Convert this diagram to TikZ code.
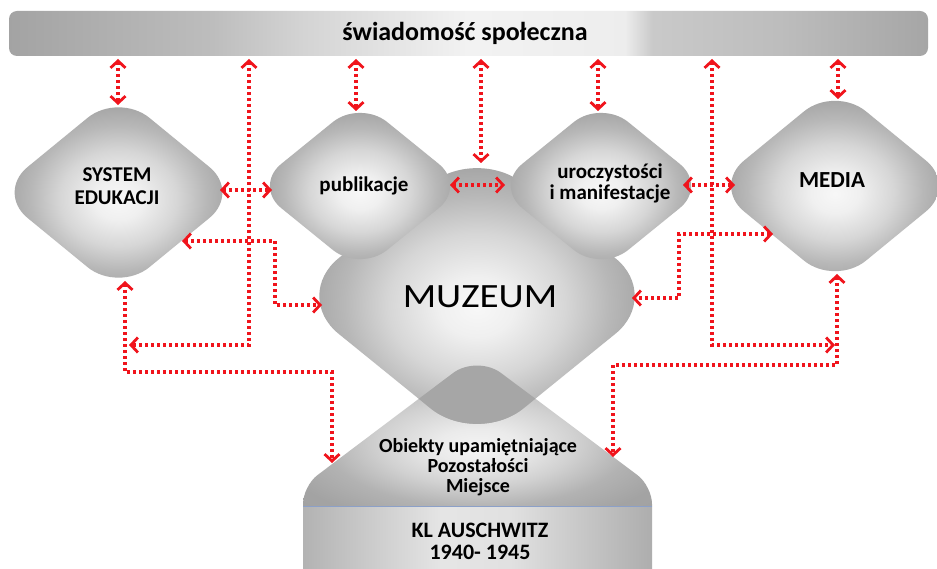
\documentclass[tikz,border=0pt]{standalone}
\usepackage{fontspec}
\setmainfont{Carlito}
\usetikzlibrary{arrows.meta}
\definecolor{cred}{RGB}{240,20,28}
\definecolor{blobgray}{RGB}{166,166,166}
\definecolor{blueline}{RGB}{140,160,200}
\pgfdeclareradialshading{dshade}{\pgfpoint{0bp}{-2bp}}{rgb(0bp)=(0.97,0.97,0.97); rgb(5bp)=(0.94,0.94,0.94); rgb(12bp)=(0.84,0.84,0.84); rgb(18bp)=(0.72,0.72,0.72); rgb(24bp)=(0.63,0.63,0.63); rgb(50bp)=(0.60,0.60,0.60)}
\pgfdeclareradialshading{oshade}{\pgfpoint{0bp}{-6bp}}{rgb(0bp)=(0.96,0.96,0.96); rgb(6bp)=(0.92,0.92,0.92); rgb(14bp)=(0.82,0.82,0.82); rgb(22bp)=(0.70,0.70,0.70); rgb(30bp)=(0.64,0.64,0.64); rgb(50bp)=(0.62,0.62,0.62)}
\pgfdeclarehorizontalshading{barshade}{100bp}{rgb(0bp)=(0.64,0.64,0.64); rgb(25bp)=(0.64,0.64,0.64); rgb(36bp)=(0.74,0.74,0.74); rgb(41bp)=(0.83,0.83,0.83); rgb(50bp)=(0.95,0.95,0.95); rgb(58.5bp)=(0.93,0.93,0.93); rgb(60bp)=(0.79,0.79,0.79); rgb(67bp)=(0.74,0.74,0.74); rgb(75bp)=(0.65,0.65,0.65); rgb(100bp)=(0.65,0.65,0.65)}
\pgfdeclarehorizontalshading{rectshade}{100bp}{rgb(0bp)=(0.70,0.70,0.70); rgb(25bp)=(0.70,0.70,0.70); rgb(45bp)=(0.90,0.90,0.90); rgb(55bp)=(0.88,0.88,0.88); rgb(75bp)=(0.68,0.68,0.68); rgb(100bp)=(0.68,0.68,0.68)}
\begin{document}
\begin{tikzpicture}[x=1pt,y=-1pt,
  conn/.style={draw=cred, line width=3.3pt, dash pattern=on 3pt off 3pt,
    >={Straight Barb[length=7pt,width=15pt,line width=2.8pt]}, <->},
  lbl/.style={align=center, inner sep=0pt, font=\fontsize{21}{23}\selectfont\bfseries},
  gshape/.style={shading=dshade}]
\useasboundingbox (0,0) rectangle (937,569);
\fill[white] (0,0) rectangle (937,569);

% top bar
\node[shading=barshade, rounded corners=8pt, minimum width=919pt, minimum height=45pt, inner sep=0pt] (bar) at (468.5,33.5) {};
\node[inner sep=0pt, font=\fontsize{26}{28}\selectfont\bfseries] (bartxt) at (465,33) {świadomość społeczna};

% lower shape (Obiekty / Pozostałości / Miejsce)
\shade[shading=oshade] (303,506) [rounded corners=18] -- (303,486) [rounded corners=30] -- (477,355) [rounded corners=18] -- (652,486) [sharp corners] -- (652,506) -- cycle;

% MUZEUM
\shade[gshape, rounded corners=60] (292,296) -- (477,146) -- (662,296) -- (477,446) -- cycle;
% overlap of MUZEUM and lower shape
\begin{scope}
  \clip[rounded corners=60] (292,296) -- (477,146) -- (662,296) -- (477,446) -- cycle;
  \fill[blobgray] (303,506) [rounded corners=18] -- (303,486) [rounded corners=30] -- (477,355) [rounded corners=18] -- (652,486) [sharp corners] -- (652,506) -- cycle;
\end{scope}

% small diamonds
\shade[gshape, rounded corners=35] (254,186) -- (360,100) -- (466,186) -- (360,272) -- cycle;
\shade[gshape, rounded corners=35] (495,186) -- (601,100) -- (707,186) -- (601,272) -- cycle;
\shade[gshape, rounded corners=40] (-3.5,192.5) -- (118.5,92.5) -- (240.5,192.5) -- (118.5,292.5) -- cycle;
\shade[gshape, rounded corners=40] (713,186) -- (835,86) -- (957,186) -- (835,286) -- cycle;

% KL Auschwitz rectangle
\shade[shading=rectshade] (303,506) rectangle (652,569);
\draw[blueline, line width=1pt] (303,506) -- (652,506);

% texts
\node[lbl] (sys) at (117,186.5) {SYSTEM\\EDUKACJI};
\node[lbl] (pub) at (364,186) {publikacje};
\node[lbl, font=\fontsize{21}{21}\selectfont\bfseries] (uro) at (610,183) {uroczystości\\i manifestacje};
\node[lbl, font=\fontsize{23}{25}\selectfont\bfseries] (med) at (832,180) {MEDIA};
\node[inner sep=0pt, font=\fontsize{34}{38}\selectfont] (muz) at (480,297) {\scalebox{1.15}[1]{MUZEUM}};
\node[lbl, font=\fontsize{20}{20}\selectfont\bfseries] (obj) at (478,467) {Obiekty upamiętniające\\Pozostałości\\Miejsce};
\node[lbl, font=\fontsize{22}{22}\selectfont\bfseries] (kl) at (480,541) {KL AUSCHWITZ\\1940- 1945};

% connector end points
\coordinate (b1) at (118,59);  \coordinate (sysT) at (118,105);
\coordinate (b2) at (249,59);  \coordinate (jl) at (129,345);
\coordinate (b3) at (356,59);  \coordinate (pubT) at (356,111);
\coordinate (b4) at (481,59);  \coordinate (muzT) at (481,163);
\coordinate (b5) at (598,59);  \coordinate (uroT) at (598,111);
\coordinate (b6) at (712,59);  \coordinate (jr) at (835,345);
\coordinate (b7) at (838,59);  \coordinate (medT) at (838,99);
\coordinate (sysR) at (220,190); \coordinate (pubL) at (272,190);
\coordinate (pubR) at (450,185); \coordinate (uroL) at (505,185);
\coordinate (uroR) at (683,185); \coordinate (medL) at (735,185);
\coordinate (sysE) at (182,241); \coordinate (k1) at (275,241); \coordinate (muzL) at (322,305);
\coordinate (medE) at (773,234); \coordinate (k2) at (679,234); \coordinate (muzR) at (632,298);
\coordinate (sysB) at (125,281); \coordinate (k3) at (332,372); \coordinate (objL) at (332,463);
\coordinate (medB) at (837,274); \coordinate (k4) at (613,365); \coordinate (objR) at (613,457);

% connectors
\draw[conn] (b1) -- (sysT);
\draw[conn] (b2) |- (jl);
\draw[conn] (b3) -- (pubT);
\draw[conn] (b4) -- (muzT);
\draw[conn] (b5) -- (uroT);
\draw[conn] (b6) |- (jr);
\draw[conn] (b7) -- (medT);
\draw[conn] (sysR) -- (pubL);
\draw[conn] (pubR) -- (uroL);
\draw[conn] (uroR) -- (medL);
\draw[conn] (sysE) -- (k1) |- (muzL);
\draw[conn] (medE) -- (k2) |- (muzR);
\draw[conn] (sysB) |- (k3) -- (objL);
\draw[conn] (medB) |- (k4) -- (objR);
\end{tikzpicture}
\end{document}
